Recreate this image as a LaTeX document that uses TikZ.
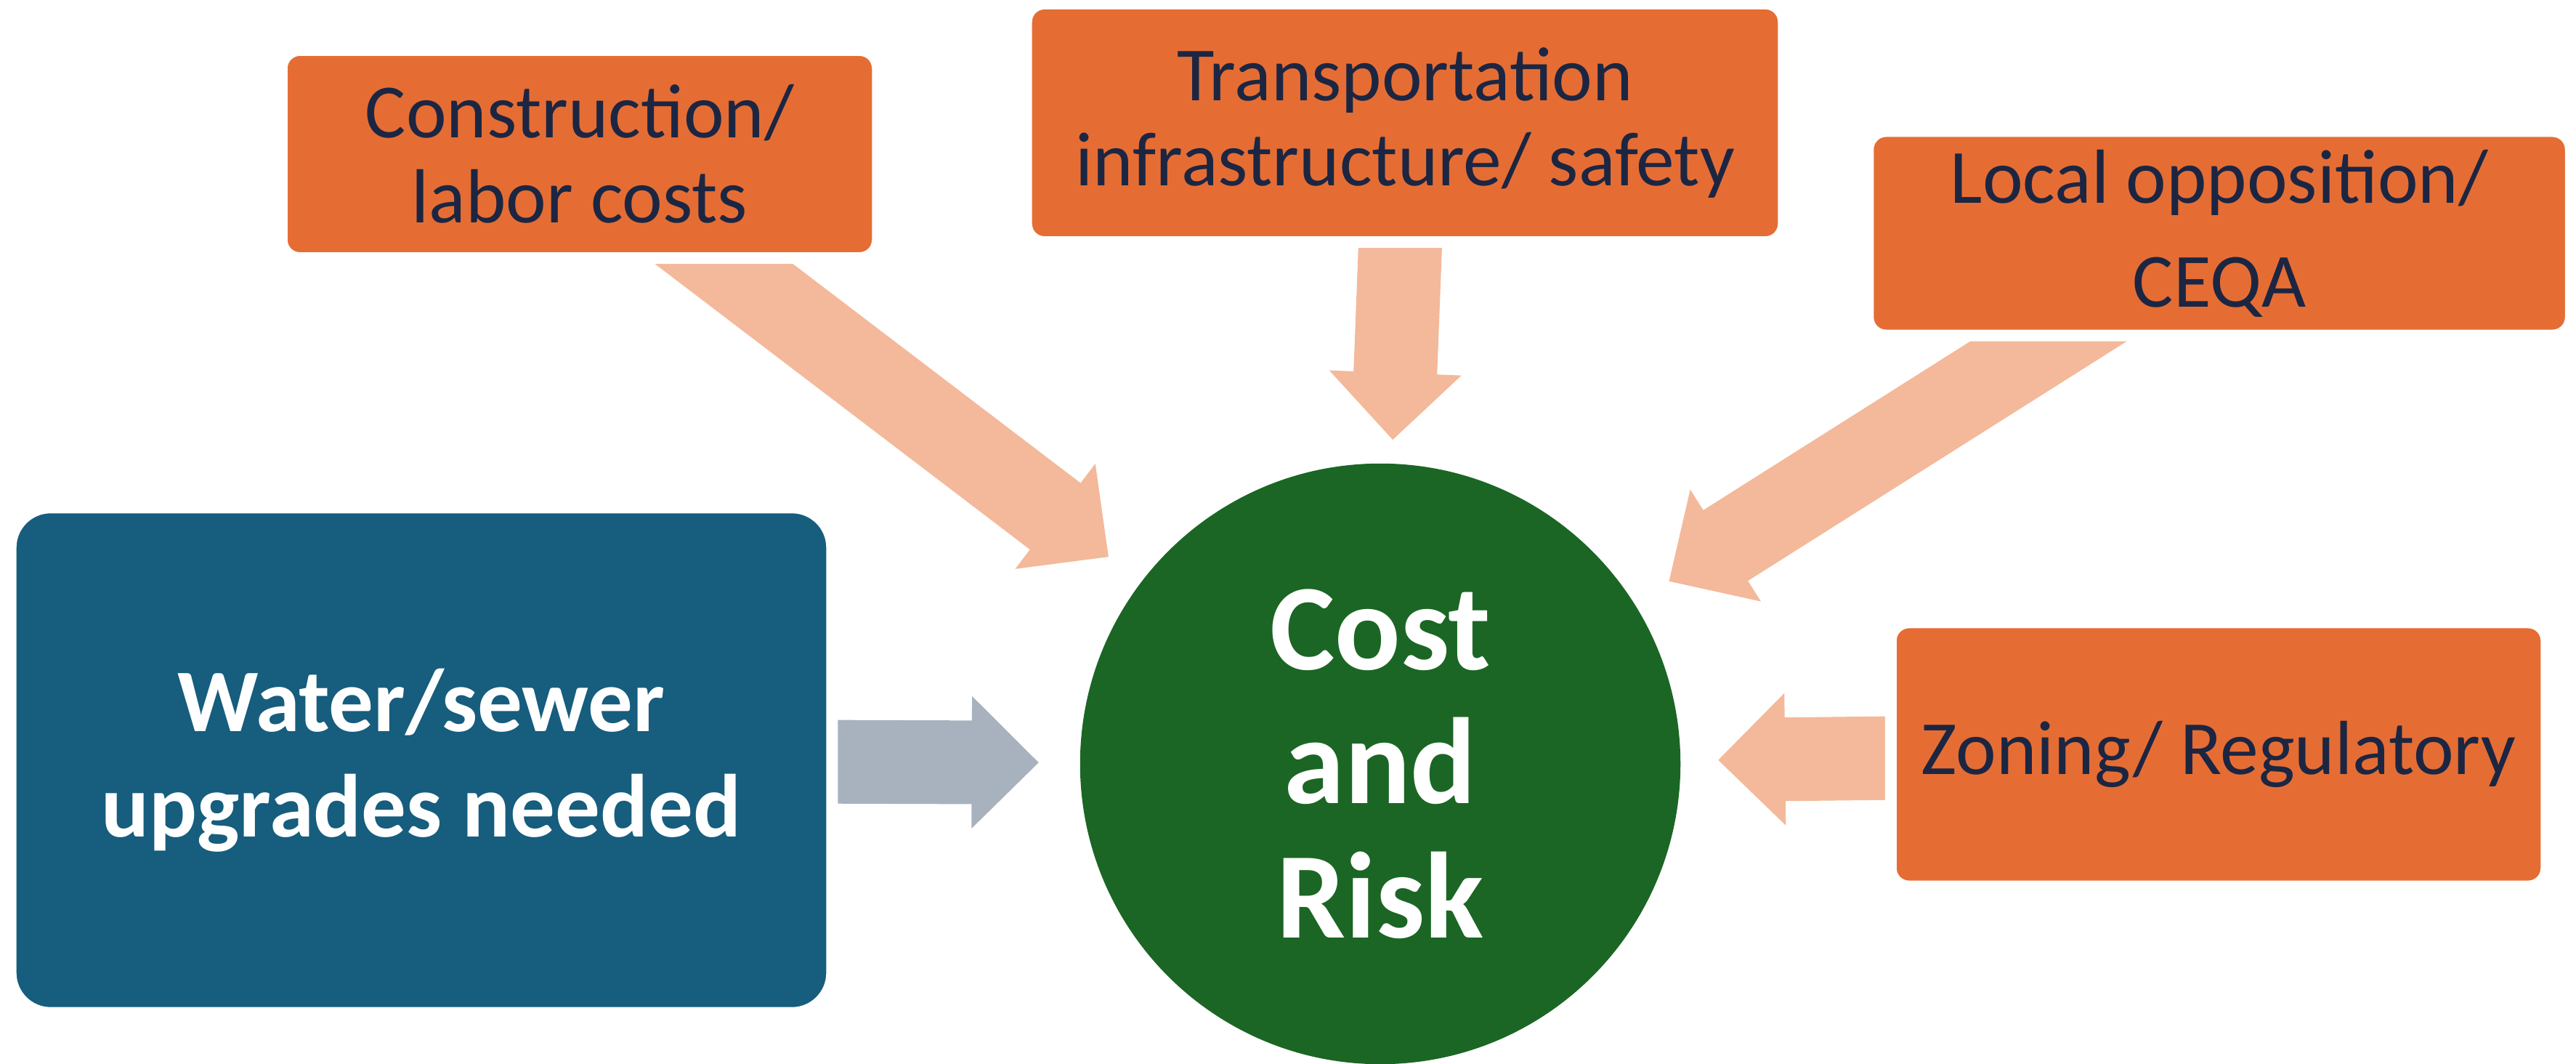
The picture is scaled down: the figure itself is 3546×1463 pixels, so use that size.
\documentclass[tikz,border=0pt]{standalone}
\usepackage{fontspec}
\setmainfont{Carlito}
\usepackage{tikz}
\usetikzlibrary{calc, backgrounds}

\definecolor{boxorange}{RGB}{229,109,52}
\definecolor{textnavy}{RGB}{28,38,66}
\definecolor{waterblue}{RGB}{22,93,126}
\definecolor{riskgreen}{RGB}{27,102,36}
\definecolor{peach}{RGB}{243,185,154}
\definecolor{slate}{RGB}{168,178,190}

% block arrow from node #2 towards node #3, tip #4 away from its centre
\newcommand{\blockarrow}[4][peach]{%
  \coordinate (tip) at ($(#3)!#4!(#2)$);
  \coordinate (neck) at ($(tip)!0.92cm!(#2)$);
  \fill[#1] ($(#2)!0.575cm!90:(tip)$) -- ($(neck)!0.575cm!90:(tip)$)
    -- ($(neck)!0.91cm!90:(tip)$) -- (tip) -- ($(neck)!0.91cm!-90:(tip)$)
    -- ($(neck)!0.575cm!-90:(tip)$) -- ($(#2)!0.575cm!-90:(tip)$) -- cycle;}

\tikzset{
  orangebox/.style={rectangle, rounded corners=0.25cm, fill=boxorange, draw=white,
    line width=0.16cm, align=center, text=textnavy, inner sep=0pt,
    font={\fontsize{30}{33.3}\selectfont}},
  waterbox/.style={rectangle, rounded corners=0.55cm, fill=waterblue, draw=white,
    line width=0.16cm, align=center, text=white, inner sep=0pt,
    font={\fontsize{35}{41.2}\selectfont\bfseries}},
  riskcircle/.style={circle, fill=riskgreen, minimum size=8.26cm, inner sep=0pt,
    align=center, text=white, font={\fontsize{48}{52.4}\selectfont\bfseries}}
}

\begin{document}
\begin{tikzpicture}[x=0.01cm, y=-0.01cm]
    \useasboundingbox (0,0) rectangle (3546,1463);
    % Centre
    \node[riskcircle] (risk) at (1900,1051) {Cost\\and\\Risk};
    % Boxes round it
    \node[waterbox, minimum width=11.30cm, minimum height=6.95cm] (water) at (580,1046) {Water/sewer\\upgrades needed};
    \node[orangebox, minimum width=8.20cm, minimum height=2.86cm] (constr) at (798,212) {Construction/\\labor costs};
    \node[orangebox, minimum width=10.42cm, minimum height=3.28cm] (transp) at (1934,169) {Transportation\\infrastructure/ safety};
    \node[orangebox, minimum width=9.67cm, minimum height=2.81cm,
      font={\fontsize{30}{40.7}\selectfont}] (local) at (3055,321) {Local opposition/\\CEQA};
    \node[orangebox, minimum width=9.02cm, minimum height=3.63cm] (zoning) at (3054,1038) {Zoning/ Regulatory};
    % Arrows behind the boxes
    \begin{scope}[on background layer]
        \blockarrow[slate]{water}{risk}{4.7cm}
        \blockarrow{constr}{risk}{4.7cm}
        \blockarrow{transp}{risk}{4.46cm}
        \blockarrow{local}{risk}{4.7cm}
        \blockarrow{zoning}{risk}{4.65cm}
    \end{scope}
\end{tikzpicture}
\end{document}
